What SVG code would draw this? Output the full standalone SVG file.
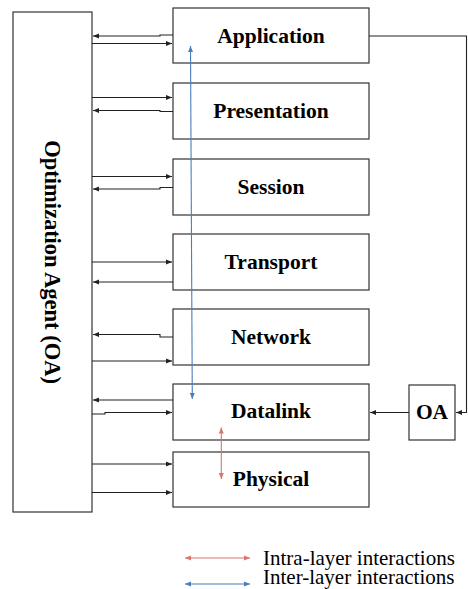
<svg xmlns="http://www.w3.org/2000/svg" width="468" height="589" viewBox="0 0 468 589">
<defs>
<marker id="ah" markerUnits="userSpaceOnUse" markerWidth="7" markerHeight="6" refX="6" refY="3" orient="auto"><path d="M0,0.5 L6,3 L0,5.5 Z" fill="#222"/></marker>
<marker id="ahb" markerUnits="userSpaceOnUse" markerWidth="7" markerHeight="6" refX="6" refY="3" orient="auto-start-reverse"><path d="M0,0.5 L6,3 L0,5.5 Z" fill="#4a7ebb"/></marker>
<marker id="ahr" markerUnits="userSpaceOnUse" markerWidth="7" markerHeight="6" refX="6" refY="3" orient="auto-start-reverse"><path d="M0,0.5 L6,3 L0,5.5 Z" fill="#d6766e"/></marker>
<style>
.box{fill:#fff;stroke:#333;stroke-width:1.2}
.lbl{font-family:"Liberation Serif","Times New Roman",serif;font-weight:bold;font-size:21.5px;fill:#000;text-anchor:middle}
.c{fill:none;stroke:#222;stroke-width:1.1;marker-end:url(#ah)}
.leg{font-family:"Liberation Serif","Times New Roman",serif;font-size:21px;fill:#000}
</style>
</defs>
<g id="oa-main"><rect class="box" x="13" y="12" width="79" height="500"/><text class="lbl" transform="translate(45,262) rotate(90)" style="font-size:22.5px">Optimization Agent (OA)</text></g>
<g id="application"><rect class="box" x="173" y="8" width="196" height="55"/><text class="lbl" x="271" y="43">Application</text></g>
<g id="presentation"><rect class="box" x="173" y="83" width="196" height="56"/><text class="lbl" x="271" y="118">Presentation</text></g>
<g id="session"><rect class="box" x="173" y="159" width="196" height="56"/><text class="lbl" x="271" y="194">Session</text></g>
<g id="transport"><rect class="box" x="173" y="234" width="196" height="56"/><text class="lbl" x="271" y="269">Transport</text></g>
<g id="network"><rect class="box" x="173" y="309" width="196" height="56"/><text class="lbl" x="271" y="344">Network</text></g>
<g id="datalink"><rect class="box" x="173" y="384" width="196" height="56"/><text class="lbl" x="271" y="417.5">Datalink</text></g>
<g id="physical"><rect class="box" x="173" y="452" width="196" height="55"/><text class="lbl" x="271" y="486">Physical</text></g>
<g id="oa-small"><rect class="box" x="409" y="385" width="46" height="55"/><text class="lbl" x="432" y="418.5">OA</text></g>
<g id="connectors">
<path class="c" d="M173,35 H160 V36 H93"/>
<path class="c" d="M92,43.5 H172"/>
<path class="c" d="M92,97.5 H172"/>
<path class="c" d="M173,111.5 H160 V110.5 H93"/>
<path class="c" d="M92,176.5 H172"/>
<path class="c" d="M173,187.5 H160 V189 H93"/>
<path class="c" d="M92,262 H172"/>
<path class="c" d="M173,282 H93"/>
<path class="c" d="M173,337 H160 V334.5 H93"/>
<path class="c" d="M92,361 H172"/>
<path class="c" d="M173,400 H93"/>
<path class="c" d="M92,414 H105 V412.5 H172"/>
<path class="c" d="M92,464 H172"/>
<path class="c" d="M92,492.5 H172"/>
<path class="c" d="M369,36 H466.5 V412.5 H456"/>
<path class="c" d="M409,412.5 H370"/>
<line x1="190.5" y1="46" x2="192.3" y2="399" stroke="#4a7ebb" stroke-width="1.1" marker-start="url(#ahb)" marker-end="url(#ahb)"/>
<line x1="221.3" y1="427.5" x2="221.3" y2="479" stroke="#d6766e" stroke-width="1.1" marker-start="url(#ahr)" marker-end="url(#ahr)"/>
</g>
<g id="legend">
<line x1="185" y1="558" x2="250" y2="558" stroke="#d6766e" stroke-width="1.1" marker-start="url(#ahr)" marker-end="url(#ahr)"/>
<line x1="185" y1="584" x2="250" y2="584" stroke="#4a7ebb" stroke-width="1.1" marker-start="url(#ahb)" marker-end="url(#ahb)"/>
<text class="leg" x="263" y="564.5">Intra-layer interactions</text>
<text class="leg" x="263" y="584">Inter-layer interactions</text>
</g>
</svg>
